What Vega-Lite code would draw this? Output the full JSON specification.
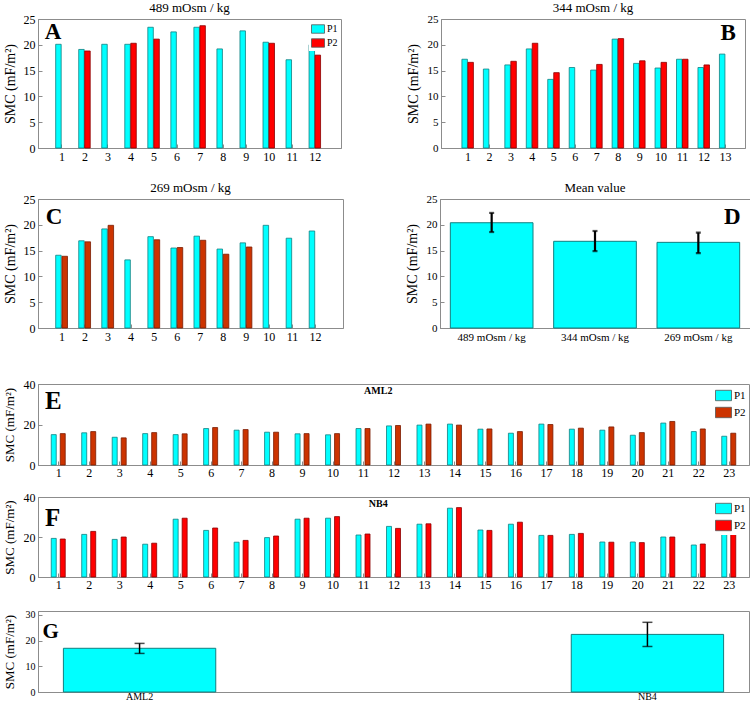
{
  "$schema": "https://vega.github.io/schema/vega-lite/v6.json",
  "background": "white",
  "padding": {"left": 2, "top": 1, "right": 0, "bottom": 0},
  "config": {
    "font": "Liberation Serif",
    "view": {"stroke": "#8c8c8c"},
    "axis": {"labelFont": "Liberation Serif", "titleFont": "Liberation Serif", "titleFontWeight": "normal", "labelColor": "black", "titleColor": "black", "domainColor": "#8c8c8c", "tickColor": "#8c8c8c", "grid": false, "labelFontSize": 12, "titleFontSize": 14, "tickSize": -4, "labelPadding": 7, "titlePadding": 3, "labelOverlap": false, "labelFlush": false, "labelBound": false},
    "axisQuantitative": {"tickCount": 40, "format": "d"},
    "axisY": {"minExtent": 18, "maxExtent": 18},
    "title": {"font": "Liberation Serif", "fontWeight": "normal", "fontSize": 13, "offset": -2},
    "legend": {"title": null, "orient": "top-right", "offset": 1, "padding": 2, "symbolType": "M-1,-0.65H1V0.65H-1Z", "symbolStrokeColor": "#555", "symbolStrokeWidth": 0.8, "labelFont": "Liberation Serif", "labelFontSize": 10, "rowPadding": 1, "labelOffset": 2, "fillColor": "white"}
  },
  "datasets": {
    "A": [
      {"n": 1, "s": "P1", "v": 20.1}, {"n": 2, "s": "P1", "v": 19.1}, {"n": 3, "s": "P1", "v": 20.1}, {"n": 4, "s": "P1", "v": 20.1},
      {"n": 5, "s": "P1", "v": 23.4}, {"n": 6, "s": "P1", "v": 22.5}, {"n": 7, "s": "P1", "v": 23.4}, {"n": 8, "s": "P1", "v": 19.2},
      {"n": 9, "s": "P1", "v": 22.7}, {"n": 10, "s": "P1", "v": 20.5}, {"n": 11, "s": "P1", "v": 17.1}, {"n": 12, "s": "P1", "v": 20.0},
      {"n": 2, "s": "P2", "v": 18.8}, {"n": 4, "s": "P2", "v": 20.3}, {"n": 5, "s": "P2", "v": 21.1}, {"n": 7, "s": "P2", "v": 23.7},
      {"n": 10, "s": "P2", "v": 20.3}, {"n": 12, "s": "P2", "v": 18.0}
    ],
    "B": [
      {"n": 1, "s": "P1", "v": 17.2}, {"n": 2, "s": "P1", "v": 15.3}, {"n": 3, "s": "P1", "v": 16.1}, {"n": 4, "s": "P1", "v": 19.2},
      {"n": 5, "s": "P1", "v": 13.3}, {"n": 6, "s": "P1", "v": 15.6}, {"n": 7, "s": "P1", "v": 15.1}, {"n": 8, "s": "P1", "v": 21.1},
      {"n": 9, "s": "P1", "v": 16.4}, {"n": 10, "s": "P1", "v": 15.5}, {"n": 11, "s": "P1", "v": 17.2}, {"n": 12, "s": "P1", "v": 15.6},
      {"n": 13, "s": "P1", "v": 18.2},
      {"n": 1, "s": "P2", "v": 16.6}, {"n": 3, "s": "P2", "v": 16.8}, {"n": 4, "s": "P2", "v": 20.3}, {"n": 5, "s": "P2", "v": 14.6},
      {"n": 7, "s": "P2", "v": 16.2}, {"n": 8, "s": "P2", "v": 21.2}, {"n": 9, "s": "P2", "v": 16.9}, {"n": 10, "s": "P2", "v": 16.6},
      {"n": 11, "s": "P2", "v": 17.2}, {"n": 12, "s": "P2", "v": 16.1}
    ],
    "C": [
      {"n": 1, "s": "P1", "v": 14.1}, {"n": 2, "s": "P1", "v": 16.9}, {"n": 3, "s": "P1", "v": 19.2}, {"n": 4, "s": "P1", "v": 13.2},
      {"n": 5, "s": "P1", "v": 17.7}, {"n": 6, "s": "P1", "v": 15.5}, {"n": 7, "s": "P1", "v": 17.8}, {"n": 8, "s": "P1", "v": 15.3},
      {"n": 9, "s": "P1", "v": 16.5}, {"n": 10, "s": "P1", "v": 19.9}, {"n": 11, "s": "P1", "v": 17.4}, {"n": 12, "s": "P1", "v": 18.8},
      {"n": 1, "s": "P2", "v": 13.9}, {"n": 2, "s": "P2", "v": 16.7}, {"n": 3, "s": "P2", "v": 19.9}, {"n": 5, "s": "P2", "v": 17.1},
      {"n": 6, "s": "P2", "v": 15.6}, {"n": 7, "s": "P2", "v": 17.0}, {"n": 8, "s": "P2", "v": 14.3}, {"n": 9, "s": "P2", "v": 15.7}
    ],
    "D": [
      {"c": "489 mOsm / kg", "v": 20.4, "lo": 18.6, "hi": 22.3},
      {"c": "344 mOsm / kg", "v": 16.8, "lo": 14.9, "hi": 18.8},
      {"c": "269 mOsm / kg", "v": 16.6, "lo": 14.5, "hi": 18.5}
    ],
    "E": [
      {"n": 1, "s": "P1", "v": 15.0}, {"n": 2, "s": "P1", "v": 15.9}, {"n": 3, "s": "P1", "v": 13.7}, {"n": 4, "s": "P1", "v": 15.5},
      {"n": 5, "s": "P1", "v": 15.0}, {"n": 6, "s": "P1", "v": 18.0}, {"n": 7, "s": "P1", "v": 17.2}, {"n": 8, "s": "P1", "v": 16.2},
      {"n": 9, "s": "P1", "v": 15.4}, {"n": 10, "s": "P1", "v": 14.9}, {"n": 11, "s": "P1", "v": 18.0}, {"n": 12, "s": "P1", "v": 19.3},
      {"n": 13, "s": "P1", "v": 19.7}, {"n": 14, "s": "P1", "v": 20.2}, {"n": 15, "s": "P1", "v": 17.7}, {"n": 16, "s": "P1", "v": 15.7},
      {"n": 17, "s": "P1", "v": 20.2}, {"n": 18, "s": "P1", "v": 17.7}, {"n": 19, "s": "P1", "v": 17.2}, {"n": 20, "s": "P1", "v": 14.7},
      {"n": 21, "s": "P1", "v": 20.7}, {"n": 22, "s": "P1", "v": 16.5}, {"n": 23, "s": "P1", "v": 14.2},
      {"n": 1, "s": "P2", "v": 15.5}, {"n": 2, "s": "P2", "v": 16.5}, {"n": 3, "s": "P2", "v": 13.4}, {"n": 4, "s": "P2", "v": 16.0},
      {"n": 5, "s": "P2", "v": 15.4}, {"n": 6, "s": "P2", "v": 18.5}, {"n": 7, "s": "P2", "v": 17.5}, {"n": 8, "s": "P2", "v": 16.2},
      {"n": 9, "s": "P2", "v": 15.5}, {"n": 10, "s": "P2", "v": 15.5}, {"n": 11, "s": "P2", "v": 18.0}, {"n": 12, "s": "P2", "v": 19.5},
      {"n": 13, "s": "P2", "v": 20.2}, {"n": 14, "s": "P2", "v": 19.7}, {"n": 15, "s": "P2", "v": 17.8}, {"n": 16, "s": "P2", "v": 16.5},
      {"n": 17, "s": "P2", "v": 20.0}, {"n": 18, "s": "P2", "v": 18.2}, {"n": 19, "s": "P2", "v": 18.8}, {"n": 20, "s": "P2", "v": 16.0},
      {"n": 21, "s": "P2", "v": 21.5}, {"n": 22, "s": "P2", "v": 17.8}, {"n": 23, "s": "P2", "v": 15.7}
    ],
    "F": [
      {"n": 1, "s": "P1", "v": 19.3}, {"n": 2, "s": "P1", "v": 21.3}, {"n": 3, "s": "P1", "v": 18.8}, {"n": 4, "s": "P1", "v": 16.4},
      {"n": 5, "s": "P1", "v": 28.9}, {"n": 6, "s": "P1", "v": 23.3}, {"n": 7, "s": "P1", "v": 17.4}, {"n": 8, "s": "P1", "v": 19.7},
      {"n": 9, "s": "P1", "v": 28.9}, {"n": 10, "s": "P1", "v": 29.4}, {"n": 11, "s": "P1", "v": 21.0}, {"n": 12, "s": "P1", "v": 25.3},
      {"n": 13, "s": "P1", "v": 26.4}, {"n": 14, "s": "P1", "v": 34.4}, {"n": 15, "s": "P1", "v": 23.5}, {"n": 16, "s": "P1", "v": 26.4},
      {"n": 17, "s": "P1", "v": 20.8}, {"n": 18, "s": "P1", "v": 21.3}, {"n": 19, "s": "P1", "v": 17.5}, {"n": 20, "s": "P1", "v": 17.5},
      {"n": 21, "s": "P1", "v": 20.0}, {"n": 22, "s": "P1", "v": 16.0}, {"n": 23, "s": "P1", "v": 23.5},
      {"n": 1, "s": "P2", "v": 19.0}, {"n": 2, "s": "P2", "v": 22.8}, {"n": 3, "s": "P2", "v": 20.0}, {"n": 4, "s": "P2", "v": 16.9},
      {"n": 5, "s": "P2", "v": 29.4}, {"n": 6, "s": "P2", "v": 24.5}, {"n": 7, "s": "P2", "v": 18.3}, {"n": 8, "s": "P2", "v": 20.5},
      {"n": 9, "s": "P2", "v": 29.4}, {"n": 10, "s": "P2", "v": 30.2}, {"n": 11, "s": "P2", "v": 21.5}, {"n": 12, "s": "P2", "v": 24.3},
      {"n": 13, "s": "P2", "v": 26.6}, {"n": 14, "s": "P2", "v": 34.7}, {"n": 15, "s": "P2", "v": 23.3}, {"n": 16, "s": "P2", "v": 27.4},
      {"n": 17, "s": "P2", "v": 20.8}, {"n": 18, "s": "P2", "v": 21.8}, {"n": 19, "s": "P2", "v": 17.4}, {"n": 20, "s": "P2", "v": 17.2},
      {"n": 21, "s": "P2", "v": 20.0}, {"n": 22, "s": "P2", "v": 16.5}, {"n": 23, "s": "P2", "v": 22.5}
    ],
    "G": [
      {"c": "AML2", "v": 17.0, "lo": 15.0, "hi": 18.9},
      {"c": "NB4", "v": 22.4, "lo": 17.7, "hi": 27.1}
    ]
  },
  "resolve": {"scale": {"x": "independent", "y": "independent", "color": "independent"}},
  "spacing": 34,
  "vconcat": [
    {
      "resolve": {"scale": {"x": "independent", "y": "independent", "color": "independent"}},
      "spacing": 18,
      "vconcat": [
        {
          "resolve": {"scale": {"x": "independent", "y": "independent", "color": "independent"}},
          "spacing": 63,
          "hconcat": [
            {
              "width": 303, "height": 129,
              "title": "489 mOsm / kg",
              "data": {"name": "A"},
              "layer": [
                {
                  "transform": [{"filter": "datum.s === 'P1'"}],
                  "mark": {"type": "bar", "width": 5.5, "xOffset": -3, "stroke": "#127f80", "strokeWidth": 0.8},
                  "encoding": {
                    "x": {"field": "n", "type": "quantitative", "scale": {"domain": [0.2, 12.92], "nice": false, "zero": false}, "axis": {"title": null, "values": [1,2,3,4,5,6,7,8,9,10,11,12]}},
                    "y": {"field": "v", "type": "quantitative", "scale": {"domain": [0, 25], "nice": false}, "axis": {"title": "SMC (mF/m²)", "values": [0,5,10,15,20,25]}},
                    "color": {"field": "s", "type": "nominal", "scale": {"domain": ["P1", "P2"], "range": ["#00FFFF", "#FF0000"]}, "legend": {"symbolSize": 169}}
                  }
                },
                {
                  "transform": [{"filter": "datum.s === 'P2'"}],
                  "mark": {"type": "bar", "width": 5.5, "xOffset": 3, "stroke": "#8a0000", "strokeWidth": 0.8},
                  "encoding": {
                    "x": {"field": "n", "type": "quantitative"},
                    "y": {"field": "v", "type": "quantitative"},
                    "color": {"field": "s", "type": "nominal"}
                  }
                },
                {
                  "data": {"values": [{"t": "A"}]},
                  "mark": {"type": "text", "fontSize": 23, "fontWeight": "bold", "font": "Liberation Serif", "align": "center", "baseline": "middle"},
                  "encoding": {"x": {"datum": 0.64, "type": "quantitative"}, "y": {"datum": 22.4, "type": "quantitative"}, "text": {"field": "t"}}
                }
              ]
            },
            {
              "width": 304, "height": 129,
              "title": "344 mOsm / kg",
              "data": {"name": "B"},
              "layer": [
                {
                  "transform": [{"filter": "datum.s === 'P1'"}],
                  "mark": {"type": "bar", "width": 5.5, "xOffset": -2.8, "stroke": "#127f80", "strokeWidth": 0.8, "color": "#00FFFF"},
                  "encoding": {
                    "x": {"field": "n", "type": "quantitative", "scale": {"domain": [0.0, 13.7], "nice": false, "zero": false}, "axis": {"title": null, "values": [1,2,3,4,5,6,7,8,9,10,11,12,13]}},
                    "y": {"field": "v", "type": "quantitative", "scale": {"domain": [0, 25], "nice": false}, "axis": {"title": "SMC (mF/m²)", "values": [0,5,10,15,20,25], "labelFontSize": 11}}
                  }
                },
                {
                  "transform": [{"filter": "datum.s === 'P2'"}],
                  "mark": {"type": "bar", "width": 5.5, "xOffset": 3.2, "stroke": "#8a0000", "strokeWidth": 0.8, "color": "#FF0000"},
                  "encoding": {
                    "x": {"field": "n", "type": "quantitative"},
                    "y": {"field": "v", "type": "quantitative"}
                  }
                },
                {
                  "data": {"values": [{"t": "B"}]},
                  "mark": {"type": "text", "fontSize": 23, "fontWeight": "bold", "font": "Liberation Serif", "align": "center", "baseline": "middle"},
                  "encoding": {"x": {"datum": 13.15, "type": "quantitative"}, "y": {"datum": 22.3, "type": "quantitative"}, "text": {"field": "t"}}
                }
              ]
            }
          ]
        },
        {
          "resolve": {"scale": {"x": "independent", "y": "independent", "color": "independent"}},
          "spacing": 60,
          "hconcat": [
            {
              "width": 305, "height": 129,
              "title": "269 mOsm / kg",
              "data": {"name": "C"},
              "layer": [
                {
                  "transform": [{"filter": "datum.s === 'P1'"}],
                  "mark": {"type": "bar", "width": 5.5, "xOffset": -3, "stroke": "#127f80", "strokeWidth": 0.8, "color": "#00FFFF"},
                  "encoding": {
                    "x": {"field": "n", "type": "quantitative", "scale": {"domain": [0.2, 13.0], "nice": false, "zero": false}, "axis": {"title": null, "values": [1,2,3,4,5,6,7,8,9,10,11,12]}},
                    "y": {"field": "v", "type": "quantitative", "scale": {"domain": [0, 25], "nice": false}, "axis": {"title": "SMC (mF/m²)", "values": [0,5,10,15,20,25]}}
                  }
                },
                {
                  "transform": [{"filter": "datum.s === 'P2'"}],
                  "mark": {"type": "bar", "width": 5.5, "xOffset": 3.3, "stroke": "#7a1c00", "strokeWidth": 0.8, "color": "#CC3300"},
                  "encoding": {
                    "x": {"field": "n", "type": "quantitative"},
                    "y": {"field": "v", "type": "quantitative"}
                  }
                },
                {
                  "data": {"values": [{"t": "C"}]},
                  "mark": {"type": "text", "fontSize": 23, "fontWeight": "bold", "font": "Liberation Serif", "align": "center", "baseline": "middle"},
                  "encoding": {"x": {"datum": 0.68, "type": "quantitative"}, "y": {"datum": 21.6, "type": "quantitative"}, "text": {"field": "t"}}
                }
              ]
            },
            {
              "width": 310, "height": 129,
              "title": "Mean value",
              "data": {"name": "D"},
              "layer": [
                {
                  "mark": {"type": "bar", "color": "#00FFFF", "stroke": "#127f80", "strokeWidth": 1},
                  "encoding": {
                    "x": {"field": "c", "type": "nominal", "sort": null, "scale": {"paddingInner": 0.2, "paddingOuter": 0.1}, "axis": {"title": null, "labelAngle": 0, "labelFontSize": 11}},
                    "y": {"field": "v", "type": "quantitative", "title": "SMC (mF/m²)", "scale": {"domain": [0, 25], "nice": false}, "axis": {"values": [0,5,10,15,20,25], "labelFontSize": 11}}
                  }
                },
                {
                  "mark": {"type": "errorbar", "ticks": true, "size": 5, "thickness": 2.2, "color": "black"},
                  "encoding": {
                    "x": {"field": "c", "type": "nominal", "sort": null},
                    "y": {"field": "lo", "type": "quantitative", "title": "SMC (mF/m²)"},
                    "y2": {"field": "hi"}
                  }
                },
                {
                  "data": {"values": [{"t": "D"}]},
                  "mark": {"type": "text", "fontSize": 23, "fontWeight": "bold", "font": "Liberation Serif", "align": "center", "baseline": "middle", "xOffset": 34},
                  "encoding": {"x": {"datum": "269 mOsm / kg", "type": "nominal"}, "y": {"datum": 21.6, "type": "quantitative"}, "text": {"field": "t"}}
                }
              ]
            }
          ]
        }
      ]
    },
    {
      "resolve": {"scale": {"x": "independent", "y": "independent", "color": "independent"}},
      "spacing": 18,
      "vconcat": [
        {
          "resolve": {"scale": {"x": "independent", "y": "independent", "color": "independent"}},
          "spacing": 11,
          "vconcat": [
            {
              "width": 711, "height": 81,
              "data": {"name": "E"},
              "layer": [
                {
                  "transform": [{"filter": "datum.s === 'P1'"}],
                  "mark": {"type": "bar", "width": 5, "xOffset": -4.5, "stroke": "#127f80", "strokeWidth": 0.8},
                  "encoding": {
                    "x": {"field": "n", "type": "quantitative", "scale": {"domain": [0.5, 23.5], "nice": false, "zero": false}, "axis": {"title": null, "values": [1,2,3,4,5,6,7,8,9,10,11,12,13,14,15,16,17,18,19,20,21,22,23], "labelPadding": 6}},
                    "y": {"field": "v", "type": "quantitative", "scale": {"domain": [0, 40], "nice": false}, "axis": {"title": "SMC (mF/m²)", "titleFontSize": 13, "titlePadding": 4, "values": [0, 20, 40]}},
                    "color": {"field": "s", "type": "nominal", "scale": {"domain": ["P1", "P2"], "range": ["#00FFFF", "#CC3300"]}, "legend": {"symbolSize": 256, "labelFontSize": 11}}
                  }
                },
                {
                  "transform": [{"filter": "datum.s === 'P2'"}],
                  "mark": {"type": "bar", "width": 5, "xOffset": 4.5, "stroke": "#7a1c00", "strokeWidth": 0.8},
                  "encoding": {
                    "x": {"field": "n", "type": "quantitative"},
                    "y": {"field": "v", "type": "quantitative"},
                    "color": {"field": "s", "type": "nominal"}
                  }
                },
                {
                  "data": {"values": [{"t": "E"}]},
                  "mark": {"type": "text", "fontSize": 25, "fontWeight": "bold", "font": "Liberation Serif", "align": "center", "baseline": "middle"},
                  "encoding": {"x": {"datum": 0.84, "type": "quantitative"}, "y": {"datum": 31.5, "type": "quantitative"}, "text": {"field": "t"}}
                },
                {
                  "data": {"values": [{"t": "AML2"}]},
                  "mark": {"type": "text", "fontSize": 10, "fontWeight": "bold", "font": "Liberation Serif", "align": "center", "baseline": "middle"},
                  "encoding": {"x": {"datum": 11.5, "type": "quantitative"}, "y": {"datum": 36.5, "type": "quantitative"}, "text": {"field": "t"}}
                }
              ]
            },
            {
              "width": 711, "height": 80,
              "data": {"name": "F"},
              "layer": [
                {
                  "transform": [{"filter": "datum.s === 'P1'"}],
                  "mark": {"type": "bar", "width": 5, "xOffset": -4.5, "stroke": "#127f80", "strokeWidth": 0.8},
                  "encoding": {
                    "x": {"field": "n", "type": "quantitative", "scale": {"domain": [0.5, 23.5], "nice": false, "zero": false}, "axis": {"title": null, "values": [1,2,3,4,5,6,7,8,9,10,11,12,13,14,15,16,17,18,19,20,21,22,23], "labelPadding": 6}},
                    "y": {"field": "v", "type": "quantitative", "scale": {"domain": [0, 40], "nice": false}, "axis": {"title": "SMC (mF/m²)", "titleFontSize": 13, "titlePadding": 4, "values": [0, 20, 40]}},
                    "color": {"field": "s", "type": "nominal", "scale": {"domain": ["P1", "P2"], "range": ["#00FFFF", "#FF0000"]}, "legend": {"symbolSize": 256, "labelFontSize": 11}}
                  }
                },
                {
                  "transform": [{"filter": "datum.s === 'P2'"}],
                  "mark": {"type": "bar", "width": 5, "xOffset": 4.5, "stroke": "#8a0000", "strokeWidth": 0.8},
                  "encoding": {
                    "x": {"field": "n", "type": "quantitative"},
                    "y": {"field": "v", "type": "quantitative"},
                    "color": {"field": "s", "type": "nominal"}
                  }
                },
                {
                  "data": {"values": [{"t": "F"}]},
                  "mark": {"type": "text", "fontSize": 25, "fontWeight": "bold", "font": "Liberation Serif", "align": "center", "baseline": "middle"},
                  "encoding": {"x": {"datum": 0.82, "type": "quantitative"}, "y": {"datum": 29.5, "type": "quantitative"}, "text": {"field": "t"}}
                },
                {
                  "data": {"values": [{"t": "NB4"}]},
                  "mark": {"type": "text", "fontSize": 10, "fontWeight": "bold", "font": "Liberation Serif", "align": "center", "baseline": "middle"},
                  "encoding": {"x": {"datum": 11.5, "type": "quantitative"}, "y": {"datum": 36.5, "type": "quantitative"}, "text": {"field": "t"}}
                }
              ]
            }
          ]
        },
        {
          "width": 711, "height": 81,
          "data": {"name": "G"},
          "layer": [
            {
              "mark": {"type": "bar", "color": "#00FFFF", "stroke": "#127f80", "strokeWidth": 1},
              "encoding": {
                "x": {"field": "c", "type": "nominal", "sort": null, "scale": {"paddingInner": 0.7, "paddingOuter": 0.05}, "axis": {"title": null, "labelAngle": 0, "labelFontSize": 10, "labelPadding": 3}},
                "y": {"field": "v", "type": "quantitative", "title": "SMC (mF/m²)", "scale": {"domain": [0, 31.5], "nice": false}, "axis": {"titleFontSize": 13, "titlePadding": 4, "values": [0, 10, 20, 30], "labelFontSize": 10}}
              }
            },
            {
              "mark": {"type": "errorbar", "ticks": true, "size": 10, "thickness": 1.5, "color": "black"},
              "encoding": {
                "x": {"field": "c", "type": "nominal", "sort": null},
                "y": {"field": "lo", "type": "quantitative", "title": "SMC (mF/m²)"},
                "y2": {"field": "hi"}
              }
            },
            {
              "data": {"values": [{"t": "G"}]},
              "mark": {"type": "text", "fontSize": 21, "fontWeight": "bold", "font": "Liberation Serif", "align": "center", "baseline": "middle", "xOffset": -89},
              "encoding": {"x": {"datum": "AML2", "type": "nominal"}, "y": {"datum": 23.3, "type": "quantitative"}, "text": {"field": "t"}}
            }
          ]
        }
      ]
    }
  ]
}
